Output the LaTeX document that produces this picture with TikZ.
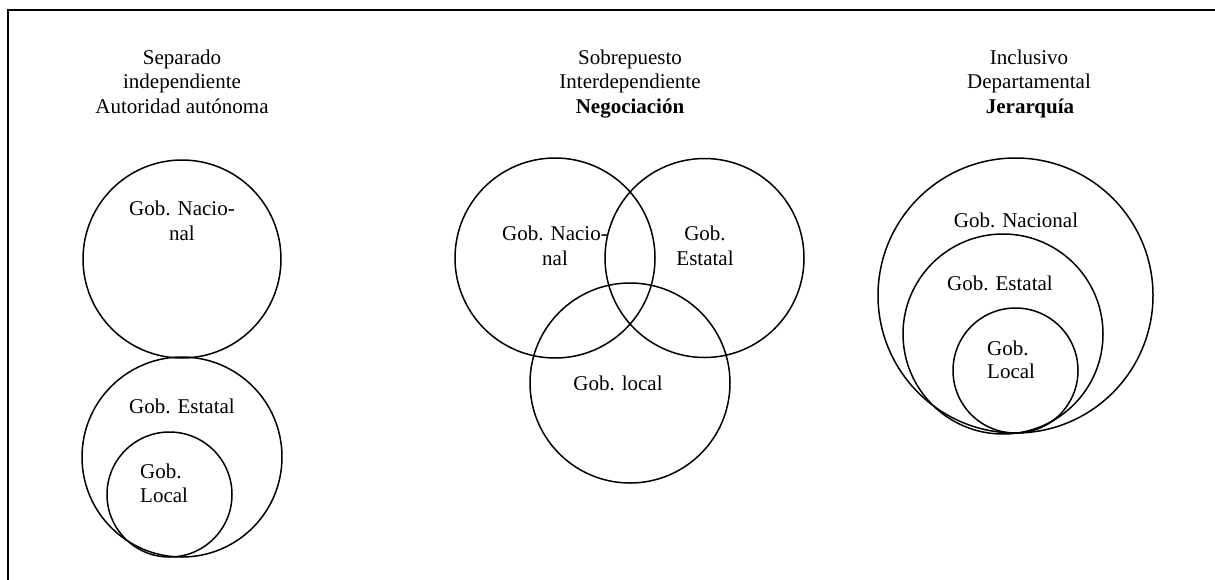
\documentclass[tikz,border=0pt]{standalone}
\usepackage{fontspec}
\setmainfont{Liberation Serif}
\begin{document}
\begin{tikzpicture}[x=1pt,y=-1pt,
  ring/.style={circle,draw,line width=1.5pt,inner sep=0pt,outer sep=0pt},
  lbl/.style={inner sep=0pt,anchor=base,font=\fontsize{21}{24}\selectfont},
  lbll/.style={lbl,anchor=base west},
  frameline/.style={line width=2pt}]
\useasboundingbox (0,0) rectangle (1215,579);
% frame
\coordinate (fb) at (7.5,580);
\coordinate (fc) at (7.5,9.5);
\coordinate (fr) at (1216,9.5);
\draw[frameline] (fb) -- (fc) -- (fr);
% titles
\node[lbl] (t1a) at (182,64) {Separado};
\node[lbl] (t1b) at (182,88.5) {independiente};
\node[lbl] (t1c) at (182,113) {Autoridad autónoma};
\node[lbl] (t2a) at (630,64) {Sobrepuesto};
\node[lbl] (t2b) at (630,88.5) {Interdependiente};
\node[lbl] (t2c) at (630,113) {\bfseries Negociación};
\node[lbl] (t3a) at (1029,64) {Inclusivo};
\node[lbl] (t3b) at (1029,88.5) {Departamental};
\node[lbl] (t3c) at (1030,113) {\bfseries Jerarquía};
% left panel
\node[ring,minimum size=198] (lN) at (182,259) {};
\node[ring,minimum size=200] (lE) at (182,457) {};
\node[ring,minimum size=125] (lL) at (169.5,494.5) {};
\node[lbl] (lNa) at (182,215) {Gob. Nacio-};
\node[lbl] (lNb) at (182,240) {nal};
\node[lbl] (lEa) at (182,413) {Gob. Estatal};
\node[lbll] (lLa) at (140,478) {Gob.};
\node[lbll] (lLb) at (140,502) {Local};
% middle panel
\node[ring,minimum size=200] (mN) at (555,258) {};
\node[ring,minimum size=199] (mE) at (704.5,258) {};
\node[ring,minimum size=200] (mL) at (630,383) {};
\node[lbl] (mNa) at (555,240) {Gob. Nacio-};
\node[lbl] (mNb) at (555,265) {nal};
\node[lbl] (mEa) at (705,240) {Gob.};
\node[lbl] (mEb) at (705,265) {Estatal};
\node[lbl] (mLa) at (618,390) {Gob. local};
% right panel
\node[ring,minimum size=275] (rN) at (1015.5,295.5) {};
\node[ring,minimum size=200] (rE) at (1003,334) {};
\node[ring,minimum size=125] (rL) at (1015.5,370.5) {};
\node[lbl] (rNa) at (1016,227) {Gob. Nacional};
\node[lbl] (rEa) at (1000,290) {Gob. Estatal};
\node[lbll] (rLa) at (987,355) {Gob.};
\node[lbll] (rLb) at (987,378) {Local};
\end{tikzpicture}
\end{document}
